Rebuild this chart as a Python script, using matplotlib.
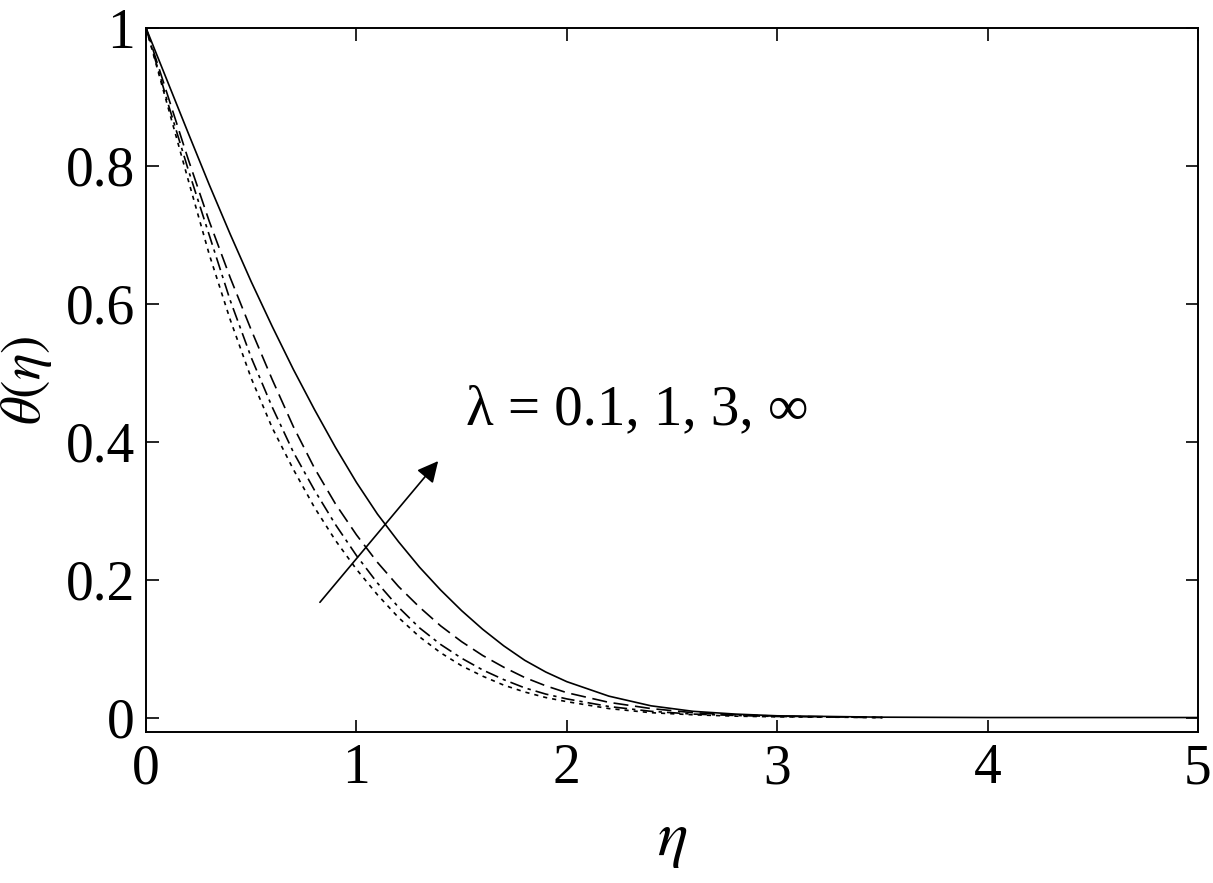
import matplotlib.pyplot as plt

plt.rcParams['font.family'] = ['Liberation Serif', 'DejaVu Serif']
plt.rcParams['mathtext.fontset'] = 'stix'

# eta grid
eta = [0.0, 0.1, 0.2, 0.3, 0.4, 0.5, 0.6, 0.7, 0.8, 0.9, 1.0, 1.1, 1.2, 1.3,
       1.4, 1.5, 1.6, 1.7, 1.8, 1.9, 2.0, 2.2, 2.4, 2.6, 2.8, 3.0, 3.5]

# lambda = infinity (solid), runs on to eta = 5
theta_inf = [1.0, 0.924, 0.848, 0.773, 0.701, 0.632, 0.567, 0.505, 0.447,
             0.392, 0.341, 0.295, 0.255, 0.218, 0.185, 0.155, 0.128, 0.104,
             0.083, 0.066, 0.052, 0.031, 0.017, 0.009, 0.005, 0.0025, 0.0005]
eta_tail = [4.0, 5.0]
theta_tail = [0.0, 0.0]

# lambda = 3 (dashed)
theta_3 = [1.0, 0.905, 0.81, 0.72, 0.638, 0.562, 0.49, 0.422, 0.362, 0.31,
           0.265, 0.225, 0.19, 0.16, 0.133, 0.11, 0.09, 0.073, 0.058, 0.046,
           0.036, 0.022, 0.013, 0.007, 0.004, 0.002, 0.0]

# lambda = 1 (dash-dot)
theta_1 = [1.0, 0.895, 0.795, 0.70, 0.605, 0.522, 0.45, 0.385, 0.33, 0.28,
           0.235, 0.195, 0.16, 0.13, 0.106, 0.086, 0.069, 0.055, 0.043, 0.034,
           0.027, 0.016, 0.009, 0.005, 0.003, 0.0015, 0.0]

# lambda = 0.1 (dotted)
theta_01 = [1.0, 0.89, 0.78, 0.672, 0.577, 0.492, 0.42, 0.36, 0.305, 0.257,
            0.215, 0.178, 0.145, 0.117, 0.094, 0.075, 0.06, 0.047, 0.037,
            0.029, 0.023, 0.013, 0.007, 0.004, 0.002, 0.001, 0.0]

xticks = [0, 1, 2, 3, 4, 5]
yticks = [0, 0.2, 0.4, 0.6, 0.8, 1.0]
yticklabels = ['0', '0.2', '0.4', '0.6', '0.8', '1']

fig = plt.figure(figsize=(12.13, 8.83), dpi=100)
ax = fig.add_axes([0.1204, 0.171, 0.8672, 0.7973])

lw = 1.2
ax.plot(eta + eta_tail, theta_inf + theta_tail, color='k', lw=lw)
ax.plot(eta, theta_3, color='k', lw=lw, dashes=(9, 4))
ax.plot(eta, theta_1, color='k', lw=lw, dashes=(8, 3, 2, 3))
ax.plot(eta, theta_01, color='k', lw=lw, dashes=(2.5, 3))

# arrow showing increasing lambda
ax.annotate('', xy=(1.397, 0.375), xytext=(0.818, 0.164),
            arrowprops=dict(arrowstyle='-|>', color='k', lw=1.2,
                            mutation_scale=32))
ax.text(1.52, 0.445, 'λ = 0.1, 1, 3, ∞', fontsize=41, va='center', ha='left')

ax.set_xlim(0, 5)
ax.set_ylim(-0.021, 1.0)
ax.set_xticks(xticks)
ax.set_xticklabels([str(t) for t in xticks])
ax.set_yticks(yticks)
ax.set_yticklabels(yticklabels)
ax.tick_params(direction='in', length=9, width=1.2, top=True, right=True,
               labelsize=40, pad=8)
for s in ax.spines.values():
    s.set_linewidth(1.4)

ax.set_xlabel(r'$\eta$', fontsize=46, labelpad=12)
ax.set_ylabel(r'$\theta(\eta)$', fontsize=40, labelpad=8)

fig.savefig('out.png', dpi=100)
